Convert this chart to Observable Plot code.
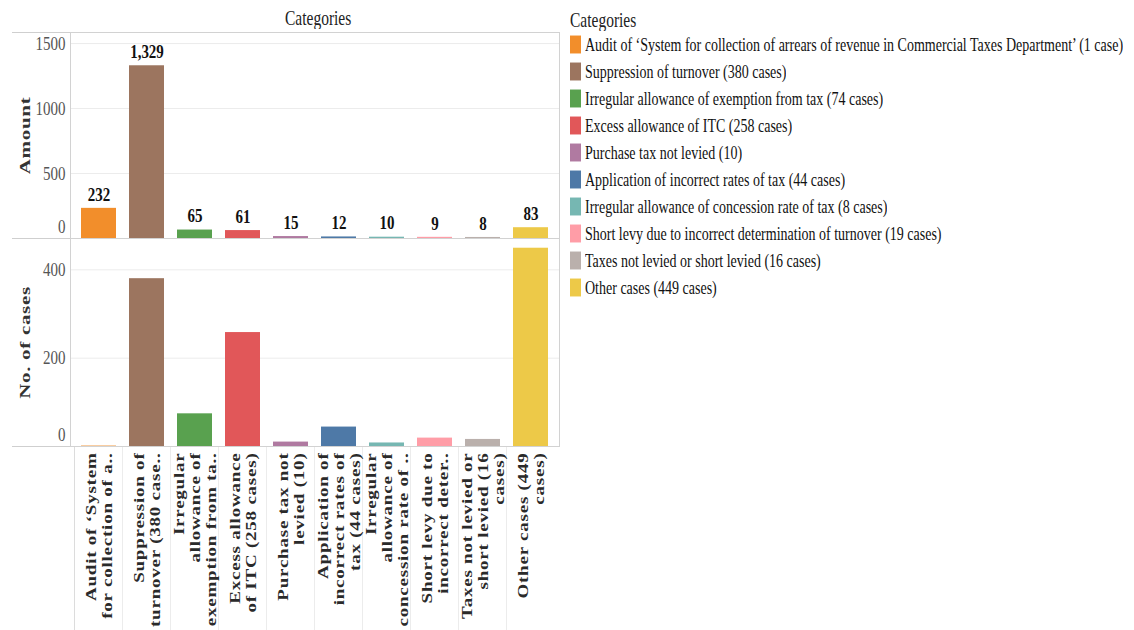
<!DOCTYPE html>
<html><head><meta charset="utf-8">
<script src="https://cdn.jsdelivr.net/npm/d3@7"></script>
<script src="https://cdn.jsdelivr.net/npm/@observablehq/plot@0.6"></script>
<style>
html,body{margin:0;padding:0;background:#fff;}
body{width:1134px;height:630px;overflow:hidden;position:relative;font-family:"Liberation Serif","Times New Roman",serif;}
#top,#bottom,#legend{position:absolute;}
#top{left:0;top:0;}
#bottom{left:0;top:230px;}
#legend{left:570px;top:31px;}
.hline{position:absolute;height:1px;background:#cfcfcf;left:12px;width:58px;}
.ttl{position:absolute;font-family:"Liberation Serif","Times New Roman",serif;font-size:15.5px;color:#222;transform:scaleY(1.35);transform-origin:center;white-space:nowrap;line-height:20px;}
.lg-swatch{height:27px;padding-bottom:0 !important;transform:scaleY(1.38);transform-origin:left center;white-space:pre;font-family:"Liberation Serif","Times New Roman",serif !important;}
.lg-swatch > svg{margin-right:4px !important;}
</style>
</head><body>
<div id="top"></div>
<div id="bottom"></div>
<div class="hline" style="top:32px"></div>
<div class="hline" style="top:238px"></div>
<div class="hline" style="top:446px"></div>
<div class="ttl" id="hdr" style="left:285px;top:8px;">Categories</div>
<div class="ttl" style="left:570px;top:10px;transform-origin:left center;">Categories</div>
<div id="legend"></div>
<script>
const categories = [
 "Audit of ‘System for collection of arrears of revenue in Commercial Taxes Department’ (1 case)",
 "Suppression of turnover (380 cases)",
 "Irregular allowance of exemption from tax (74 cases)",
 "Excess allowance of ITC (258 cases)",
 "Purchase tax not levied (10)",
 "Application of incorrect rates of tax (44 cases)",
 "Irregular allowance of concession rate of  tax (8 cases)",
 "Short levy due to incorrect determination of turnover (19 cases)",
 "Taxes not levied or short levied (16 cases)",
 "Other cases (449 cases)"
];
const axisLabels = [
 "Audit of ‘System\nfor collection of a..",
 "Suppression of\nturnover (380 case..",
 "Irregular\nallowance of\nexemption from ta..",
 "Excess allowance\nof ITC (258 cases)",
 "Purchase tax not\nlevied (10)",
 "Application of\nincorrect rates of\ntax (44 cases)",
 "Irregular\nallowance of\nconcession rate of ..",
 "Short levy due to\nincorrect deter..",
 "Taxes not levied or\nshort levied (16\ncases)",
 "Other cases (449\ncases)"
];
const amounts = [232, 1329, 65, 61, 15, 12, 10, 9, 8, 83];
const cases = [1, 380, 74, 258, 10, 44, 8, 19, 16, 449];
const colors = ["#F28E2B","#9C755F","#59A14F","#E15759","#B07AA1","#4E79A7","#76B7B2","#FF9DA7","#BAB0AC","#EDC948"];
const amountTicks = [0, 500, 1000, 1500];
const caseTicks = [0, 200, 400];

const rows = categories.map((c, i) => ({cat: c, amount: amounts[i], cases: cases[i]}));
const font = "'Liberation Serif', 'Times New Roman', serif";
const xScale = {domain: categories, paddingInner: 0.265, paddingOuter: 0.13};
const colorScale = {domain: categories, range: colors};
const plain = d3.format("d");

const topPlot = Plot.plot({
  width: 565, height: 240, marginTop: 32, marginBottom: 2, marginLeft: 70, marginRight: 6,
  style: {fontFamily: font, background: "transparent", overflow: "visible"},
  x: {...xScale, axis: null},
  y: {domain: [0, 1585], axis: null},
  color: colorScale,
  marks: [
    Plot.gridY(amountTicks.filter(d => d > 0), {stroke: "#ececec", strokeOpacity: 1}),
    Plot.frame({stroke: "#d2d2d2"}),
    Plot.barY(rows, {x: "cat", y: "amount", fill: "cat"}),
    Plot.text(rows, {x: "cat", y: "amount", text: d => d3.format(",")(d.amount), dy: -14,
      fontWeight: "bold", fontSize: 15, fill: "#111", ariaDescription: "values"}),
    Plot.axisY(amountTicks.filter(d => d > 0), {tickSize: 0, tickPadding: 5, fontSize: 15, fill: "#555", label: null, tickFormat: plain}),
    Plot.axisY([0], {tickSize: 0, tickPadding: 5, fontSize: 15, fill: "#555", label: null, dy: -12, tickFormat: plain}),
    Plot.text(["Amount"], {frameAnchor: "left", text: d => d, dx: -45, rotate: -90, textAnchor: "middle",
      fontWeight: "bold", fontSize: 15, fill: "#333", ariaDescription: "ytitle"})
  ]
});

const bottomPlot = Plot.plot({
  width: 565, height: 400, marginTop: 8, marginBottom: 184, marginLeft: 70, marginRight: 6,
  style: {fontFamily: font, background: "transparent"},
  x: {...xScale, axis: null},
  y: {domain: [0, 471], axis: null},
  color: colorScale,
  marks: [
    Plot.gridY(caseTicks.filter(d => d > 0), {stroke: "#ececec", strokeOpacity: 1}),
    Plot.ruleX(categories, {x: d => d, dx: -24.5, y1: 0, y2: -430, stroke: "#ececec"}),
    Plot.ruleX([categories[0]], {x: d => d, dx: -24.5, y1: 0, y2: -430, stroke: "#dcdcdc"}),
    Plot.frame({stroke: "#d2d2d2"}),
    Plot.barY(rows, {x: "cat", y: "cases", fill: "cat"}),
    Plot.axisY(caseTicks.filter(d => d > 0), {tickSize: 0, tickPadding: 5, fontSize: 15, fill: "#555", label: null, tickFormat: plain}),
    Plot.axisY([0], {tickSize: 0, tickPadding: 5, fontSize: 15, fill: "#555", label: null, dy: -12, tickFormat: plain}),
    Plot.axisX({tickSize: 0, tickPadding: 6, tickRotate: -90, fontSize: 15, fontWeight: "bold", fill: "#2a2a2a",
      lineHeight: 1.07, label: null, tickFormat: d => axisLabels[categories.indexOf(d)], ariaDescription: "xlabels"}),
    Plot.text(["No. of cases"], {frameAnchor: "left", text: d => d, dx: -45, rotate: -90, textAnchor: "middle",
      fontWeight: "bold", fontSize: 15, fill: "#333", ariaDescription: "ytitle"})
  ]
});

function stretch(svg, selector, s, extra) {
  svg.querySelectorAll(selector).forEach(t => {
    const tr = t.getAttribute("transform") || "";
    t.setAttribute("transform", tr + " " + s);
    if (extra) for (const k in extra) t.style[k] = extra[k];
  });
}
for (const svg of [topPlot, bottomPlot]) {
  stretch(svg, 'g[aria-label="y-axis tick label"] text', "scale(1,1.3)");
  stretch(svg, 'g[aria-description="values"] text', "scale(1,1.3)");
  stretch(svg, 'g[aria-description="ytitle"] text', "scale(1.4,1)", {letterSpacing: "0.5px"});
  stretch(svg, 'g[aria-label="x-axis tick label"] text', "scale(1.27,1)", {letterSpacing: "0.6px"});
}
document.getElementById("top").appendChild(topPlot);
document.getElementById("bottom").appendChild(bottomPlot);

const legend = Plot.legend({
  color: colorScale, legend: "swatches", columns: 1, swatchWidth: 11, swatchHeight: 13,
  className: "lg", style: {fontFamily: font, fontSize: "14px", color: "#111"}
});
document.getElementById("legend").appendChild(legend);
</script>
</body></html>
